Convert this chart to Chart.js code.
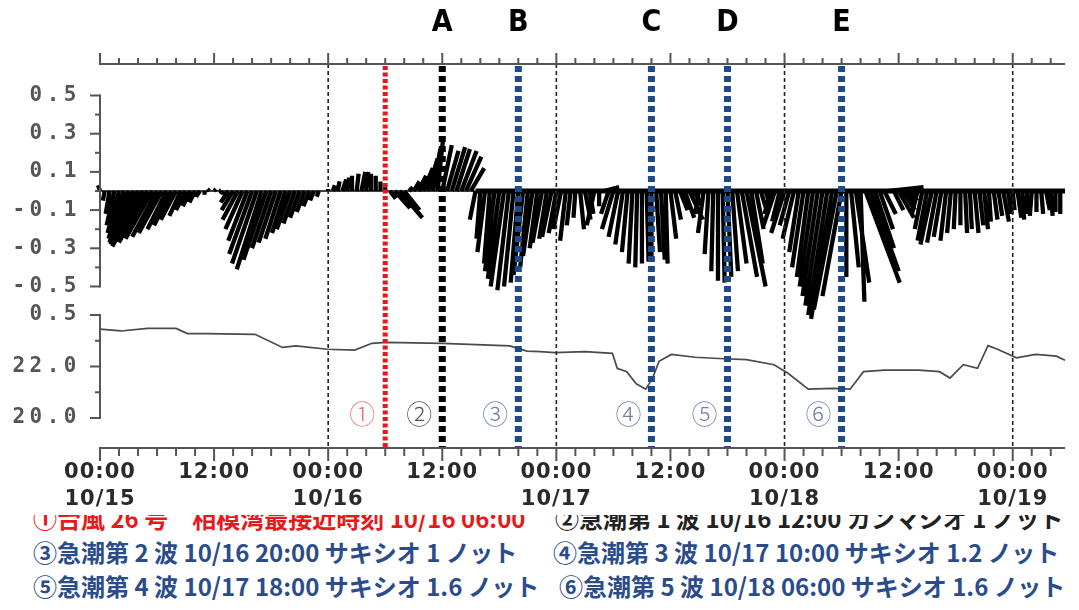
<!DOCTYPE html>
<html><head><meta charset="utf-8">
<script src="https://cdn.jsdelivr.net/npm/chart.js@4.4.1/dist/chart.umd.min.js"></script>
<style>
html,body{margin:0;padding:0;background:#fff;}
#wrap{position:relative;width:1079px;height:610px;overflow:hidden;background:#fff;}
#chartBox{position:absolute;left:0;top:0;width:1079px;height:515px;}
#notes{position:absolute;left:0;top:515px;width:1079px;height:95px;overflow:hidden;
  font-family:"Noto Sans CJK JP","Noto Sans CJK SC",sans-serif;font-weight:700;font-size:24px;}
.row{position:relative;height:34px;line-height:34px;white-space:nowrap;}
.row span{position:absolute;top:0;}
</style></head>
<body><div id="wrap"><div id="chartBox"><canvas id="c"></canvas></div><div id="notes"></div></div>
<script>
// ---------- data ----------
const majorTickHours = [0, 12, 24, 36, 48, 60, 72, 84, 96];
const majorTickLabels = [['00:00','10/15'], '12:00', ['00:00','10/16'], '12:00', ['00:00','10/17'], '12:00', ['00:00','10/18'], '12:00', ['00:00','10/19']];
const X_TICK_STEP = 2;          // hours between tick marks
const X_MAX_HOURS = 101.5;

const stickTickValues = [-0.5,-0.4,-0.3,-0.2,-0.1,0,0.1,0.2,0.3,0.4,0.5];
const stickTickLabels = ['-0.5','','-0.3','','-0.1','','0.1','','0.3','','0.5'];
const tempTickValues = [20,21,22,23,24];
const tempTickLabels = ['20.0','','22.0','','0.5'];

const dayLineHours = [24, 48, 72, 96];
const eventHours   = [30, 36, 44, 58, 66, 78];
const eventLetters = ['', 'A', 'B', 'C', 'D', 'E'];
const eventMarks   = ['①','②','③','④','⑤','⑥'];

// water temperature (hours from 10/15 00:00, deg C)
const tempHours  = [0,2.2,5,8,9.2,11.2,16.3,19.2,20.6,23.9,26.8,28.6,30.1,36,43.1,44.9,46.3,47.8,51,53.9,54.4,55.4,56.4,57.4,58.1,58.8,60.1,62.6,65.1,68,70.9,72.4,74.5,77.1,78.9,80.3,82.5,86.1,88.3,89.4,90.8,92.3,93.4,94.4,96.4,98.4,100.6,101.5];
const tempValues = [23.45,23.38,23.48,23.48,23.28,23.28,23.25,22.74,22.80,22.67,22.64,22.90,22.94,22.90,22.80,22.60,22.58,22.54,22.58,22.51,21.93,21.80,21.33,21.12,21.53,22.20,22.47,22.36,22.31,22.27,22.07,21.73,21.12,21.15,21.12,21.80,21.86,21.86,21.80,21.55,22.07,21.93,22.81,22.67,22.34,22.47,22.40,22.24];

// current sticks every 0.5 h from 10/15 00:00 : north (v) and east (u) components
const STICK_STEP = 0.5;
const stickV = [
 0.03,-0.05,-0.12,-0.18,-0.22,-0.25,-0.27,-0.28,-0.28,-0.29,-0.27,-0.25,-0.24,-0.22,-0.20,-0.18,-0.15,-0.13,-0.10,-0.08,-0.06,-0.03,-0.02,0.01,
 0.01,0.00,-0.02,-0.06,-0.10,-0.15,-0.20,-0.26,-0.33,-0.38,-0.41,-0.36,-0.30,-0.27,-0.25,-0.22,-0.20,-0.17,-0.14,-0.11,-0.08,-0.05,-0.03,0.00,
 0.01,0.03,0.05,0.06,0.07,0.08,0.09,0.10,0.10,0.09,0.08,0.05,0.02,-0.04,-0.09,-0.14,-0.10,0.02,0.05,0.08,0.12,0.17,0.22,0.28,
 0.24,0.21,0.23,0.22,0.21,0.18,0.12,-0.15,-0.25,-0.32,-0.38,-0.42,-0.46,-0.50,-0.52,-0.50,-0.48,-0.44,-0.40,-0.34,-0.30,-0.27,-0.25,-0.24,
 -0.22,-0.20,-0.26,-0.18,-0.14,-0.20,-0.15,-0.12,-0.18,-0.08,0.02,-0.12,-0.20,-0.24,-0.28,-0.32,-0.38,-0.40,-0.38,-0.37,-0.35,-0.32,-0.36,-0.38,
 -0.25,-0.15,-0.10,-0.14,-0.15,-0.08,-0.12,-0.22,-0.33,-0.42,-0.47,-0.48,-0.45,-0.42,-0.38,-0.45,-0.50,-0.38,-0.20,-0.10,-0.06,-0.12,-0.18,-0.16,
 -0.22,-0.18,-0.25,-0.32,-0.40,-0.45,-0.50,-0.55,-0.60,-0.65,-0.67,-0.62,-0.55,-0.45,-0.40,-0.48,-0.58,-0.48,-0.42,-0.30,-0.20,-0.12,0.02,-0.10,
 -0.14,-0.10,-0.06,-0.05,-0.12,-0.20,-0.26,-0.28,-0.27,-0.24,-0.26,-0.22,-0.20,-0.18,-0.22,-0.20,-0.22,-0.18,-0.20,-0.16,-0.15,-0.13,-0.16,-0.12,
 -0.10,-0.14,-0.15,-0.12,-0.13,-0.11,-0.12,-0.10,-0.13,-0.11,-0.12
];
const stickU = [
 -0.01,-0.01,-0.02,-0.04,-0.06,-0.08,-0.10,-0.12,-0.14,-0.16,-0.15,-0.14,-0.13,-0.12,-0.10,-0.09,-0.08,-0.06,-0.05,-0.04,-0.03,-0.02,0.00,-0.01,
 0.01,0.01,-0.01,-0.04,-0.06,-0.08,-0.09,-0.10,-0.12,-0.13,-0.13,-0.12,-0.10,-0.09,-0.08,-0.07,-0.07,-0.06,-0.05,-0.04,-0.03,-0.02,-0.01,0.00,
 0.00,0.01,0.01,0.02,0.01,0.00,0.01,0.02,0.01,0.00,0.00,0.00,0.00,0.03,0.08,0.12,0.08,0.02,0.03,0.04,0.05,0.05,0.04,0.03,
 0.05,0.06,0.07,0.07,0.08,0.08,0.07,-0.03,-0.02,-0.04,-0.03,-0.05,-0.06,-0.07,-0.06,-0.05,-0.04,-0.05,-0.04,-0.05,-0.04,-0.05,-0.04,-0.05,
 -0.04,-0.04,-0.03,-0.02,-0.01,0.02,0.03,0.02,-0.04,0.00,0.08,-0.04,-0.06,-0.05,-0.04,-0.03,-0.02,-0.01,0.00,0.01,0.00,0.02,0.02,0.01,
 0.03,0.03,0.04,0.05,0.07,0.04,-0.02,-0.03,-0.02,-0.01,0.00,0.01,0.02,0.03,0.05,0.08,0.10,0.06,0.04,0.03,0.02,-0.03,-0.06,-0.04,
 -0.07,-0.05,-0.06,-0.05,-0.06,-0.06,-0.07,-0.08,-0.09,-0.10,-0.11,-0.12,-0.10,0.00,0.04,0.07,0.02,0.18,0.15,0.10,0.07,0.06,0.18,0.05,
 0.08,0.06,0.03,0.02,-0.03,-0.04,-0.05,-0.06,-0.05,-0.04,-0.03,-0.02,-0.01,0.00,0.01,0.01,0.02,0.02,0.02,0.01,0.02,0.02,0.03,0.02,
 0.01,0.02,0.01,0.00,-0.01,0.00,0.01,0.02,0.01,0.00,0.00
];
const HEAVY_BASELINE_FROM = 39.5;   // hours: dense stick origins form a heavy zero line

const noteRows = [
  [{text:'①台風 26 号　相模湾最接近時刻 10/16 06:00', color:'#e8191a'}, {text:'②急潮第 1 波 10/16 12:00 カンマシオ 1 ノット', color:'#222222'}],
  [{text:'③急潮第 2 波 10/16 20:00 サキシオ 1 ノット', color:'#2b4c8c'}, {text:'④急潮第 3 波 10/17 10:00 サキシオ 1.2 ノット', color:'#2b4c8c'}],
  [{text:'⑤急潮第 4 波 10/17 18:00 サキシオ 1.6 ノット', color:'#2b4c8c'}, {text:'⑥急潮第 5 波 10/18 06:00 サキシオ 1.6 ノット', color:'#2b4c8c'}]
];

// ---------- styles ----------
const STICK_HOURS_PER_UNIT = 20.1;  // equal visual scale for east and north components
const AXIS_COLOR = '#555555';
const eventColors = ['#e8151b', '#000000', '#1f4a8a', '#1f4a8a', '#1f4a8a', '#1f4a8a'];
const eventWidths = [5, 7, 7, 7, 7, 7];
const eventDashes = [[4, 2.5], [6, 4], [6, 4], [6, 4], [6, 4], [6, 4]];
const markColors = ['#f07070', '#555555', '#7282a6', '#7282a6', '#7282a6', '#7282a6'];
const noteX = [[33, 555], [33, 553], [33, 559]];

// ---------- notes (HTML text) ----------
const notes = document.getElementById('notes');
noteRows.forEach((row, r) => {
  const div = document.createElement('div');
  div.className = 'row';
  if (r === 0) div.style.marginTop = '-14px';
  row.forEach((n, k) => {
    const s = document.createElement('span');
    s.textContent = n.text; s.style.color = n.color; s.style.left = noteX[r][k] + 'px';
    div.appendChild(s);
  });
  notes.appendChild(div);
});

// ---------- datasets ----------
const stickData = [];
stickV.forEach((v, i) => {
  const t = i * STICK_STEP;
  stickData.push({x: t, y: 0}, {x: t + stickU[i] * STICK_HOURS_PER_UNIT, y: v}, {x: t, y: null});
});
const tempData = tempHours.map((h, i) => ({x: h, y: tempValues[i]}));

const xTicks = [];
for (let h = 0; h <= X_MAX_HOURS; h += X_TICK_STEP) xTicks.push({value: h});

function line(ctx, x1, y1, x2, y2) { ctx.beginPath(); ctx.moveTo(x1, y1); ctx.lineTo(x2, y2); ctx.stroke(); }

const overlay = {
  id: 'overlay',
  beforeDraw(chart) { chart.ctx.letterSpacing = '1px'; },
  afterDatasetsDraw(chart) {
    const {ctx, chartArea: a} = chart;
    const {x, x2, yS, yT} = chart.scales;
    ctx.save();
    ctx.letterSpacing = '0px';
    ctx.lineCap = 'butt';
    // zero line of stick plot
    const y0 = yS.getPixelForValue(0);
    ctx.strokeStyle = '#000';
    ctx.lineWidth = 1.5; line(ctx, x.getPixelForValue(0), y0, x.getPixelForValue(HEAVY_BASELINE_FROM), y0);
    ctx.lineWidth = 5; line(ctx, x.getPixelForValue(HEAVY_BASELINE_FROM), y0, a.right, y0);
    // day separators
    ctx.strokeStyle = '#222'; ctx.lineWidth = 1.6; ctx.setLineDash([4, 3]);
    dayLineHours.forEach(h => { const px = x.getPixelForValue(h); line(ctx, px, a.top, px, a.bottom); });
    // event lines
    eventHours.forEach((h, i) => {
      const px = x.getPixelForValue(h);
      ctx.strokeStyle = eventColors[i]; ctx.lineWidth = eventWidths[i]; ctx.setLineDash(eventDashes[i]);
      line(ctx, px, a.top + 2, px, a.bottom);
    });
    ctx.setLineDash([]);
    // event letters and circled numbers
    ctx.textAlign = 'center'; ctx.textBaseline = 'middle';
    eventHours.forEach((h, i) => {
      const px = x.getPixelForValue(h);
      if (eventLetters[i]) {
        ctx.fillStyle = '#000';
        ctx.font = "bold 30px 'Liberation Sans Narrow', 'DejaVu Sans Condensed', sans-serif";
        ctx.fillText(eventLetters[i], px, 23);
      }
      ctx.fillStyle = markColors[i];
      ctx.font = "300 26px 'Noto Sans CJK JP', sans-serif";
      ctx.fillText(eventMarks[i], px - 23, yT.getPixelForValue(20) - 4);
    });
    // axes
    ctx.strokeStyle = AXIS_COLOR; ctx.lineWidth = 2;
    const yTop = x2.bottom, yBot = x.top;
    line(ctx, a.left - 1, yTop, a.right, yTop);
    line(ctx, a.left - 1, yBot, a.right, yBot);
    x.ticks.forEach(t => {
      const px = x.getPixelForValue(t.value);
      const major = majorTickHours.includes(t.value);
      line(ctx, px, yTop, px, yTop - (major ? 11 : 6));
      line(ctx, px, yBot, px, yBot + (major ? 13 : 8));
    });
    const ySTop = yS.getPixelForValue(stickTickValues[stickTickValues.length - 1]);
    const ySBot = yS.getPixelForValue(stickTickValues[0]);
    line(ctx, a.left, ySTop - 1, a.left, ySBot + 1);
    stickTickValues.forEach((v, i) => {
      const py = yS.getPixelForValue(v);
      line(ctx, a.left, py, a.left - (stickTickLabels[i] ? 10 : 5), py);
    });
    const yTTop = yT.getPixelForValue(tempTickValues[tempTickValues.length - 1]);
    const yTBot = yT.getPixelForValue(tempTickValues[0]);
    line(ctx, a.left, yTTop - 1, a.left, yTBot + 1);
    tempTickValues.forEach((v, i) => {
      const py = yT.getPixelForValue(v);
      line(ctx, a.left, py, a.left - (tempTickLabels[i] ? 10 : 5), py);
    });
    ctx.restore();
    ctx.letterSpacing = '4.5px';   // wide-set y-axis labels drawn next
  },
  afterDraw(chart) { chart.ctx.letterSpacing = '0px'; }
};

const yLabelFont = {family: "'DejaVu Sans Mono', monospace", size: 21, weight: 'bold'};

new Chart(document.getElementById('c'), {
  type: 'line',
  data: {
    datasets: [
      {label: 'current', data: stickData, xAxisID: 'x', yAxisID: 'yS', borderColor: '#000', borderWidth: 4.3,
       pointRadius: 0, spanGaps: false, clip: false, tension: 0, borderCapStyle: 'butt'},
      {label: 'temperature', data: tempData, xAxisID: 'x', yAxisID: 'yT', borderColor: '#4a4a4a', borderWidth: 1.7,
       pointRadius: 0, tension: 0, clip: false}
    ]
  },
  options: {
    responsive: true, maintainAspectRatio: false, animation: false, devicePixelRatio: 1,
    layout: {padding: {left: 0, right: 14, top: 0, bottom: 0}},
    plugins: {legend: {display: false}, tooltip: {enabled: false}},
    events: [],
    scales: {
      x: {type: 'linear', position: 'bottom', min: 0, max: X_MAX_HOURS,
          afterBuildTicks: s => { s.ticks = xTicks.map(t => ({value: t.value})); },
          afterFit: s => { s.height = 67; },
          grid: {display: false, drawTicks: false}, border: {display: false},
          ticks: {autoSkip: false, maxRotation: 0, padding: 11, color: '#2a2a2a',
                  font: {family: "'DejaVu Sans', sans-serif", size: 21, weight: 'bold', lineHeight: 1.28},
                  callback: v => { const k = majorTickHours.indexOf(v); return k >= 0 ? majorTickLabels[k] : ''; }}},
      x2: {type: 'linear', position: 'top', min: 0, max: X_MAX_HOURS,
           afterBuildTicks: s => { s.ticks = xTicks.map(t => ({value: t.value})); },
           afterFit: s => { s.height = 64; },
           grid: {display: false, drawTicks: false}, border: {display: false}, ticks: {display: false}},
      yT: {type: 'linear', position: 'left', stack: 'panels', stackWeight: 147, min: 18.835, max: 24.544,
           afterBuildTicks: s => { s.ticks = tempTickValues.map(v => ({value: v})); },
           afterFit: s => { s.width = 100; },
           grid: {display: false, drawTicks: false}, border: {display: false},
           ticks: {z: 1, padding: 19, color: '#555', font: yLabelFont, autoSkip: false,
                   callback: v => { const k = tempTickValues.indexOf(v); return k >= 0 ? tempTickLabels[k] : ''; }}},
      yS: {type: 'linear', position: 'left', stack: 'panels', stackWeight: 237, min: -0.576, max: 0.665,
           afterBuildTicks: s => { s.ticks = stickTickValues.map(v => ({value: v})); },
           afterFit: s => { s.width = 100; },
           grid: {display: false, drawTicks: false}, border: {display: false},
           ticks: {z: 1, padding: 19, color: '#555', font: yLabelFont, autoSkip: false,
                   callback: v => { const k = stickTickValues.findIndex(t => Math.abs(t - v) < 1e-9); return k >= 0 ? stickTickLabels[k] : ''; }}}
    }
  },
  plugins: [overlay]
});
</script>
</body></html>
